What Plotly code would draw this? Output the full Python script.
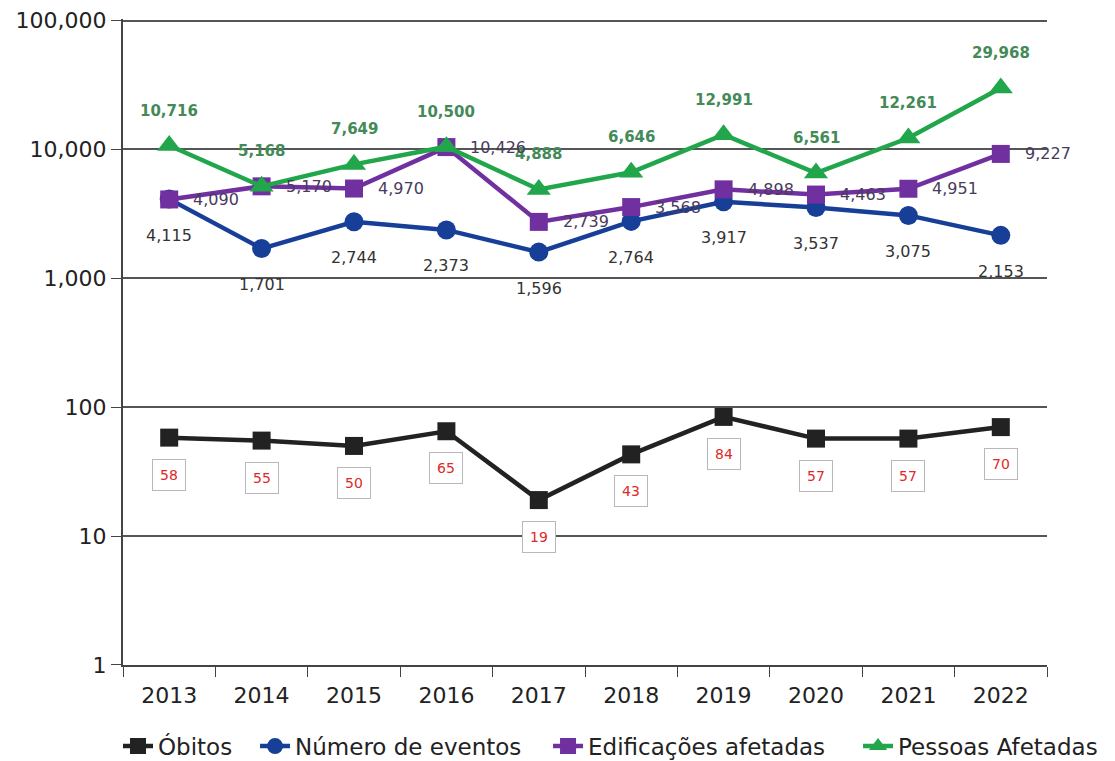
import numpy as np
import plotly.graph_objects as go

years = ["2013", "2014", "2015", "2016", "2017", "2018", "2019", "2020", "2021", "2022"]
obitos = [58, 55, 50, 65, 19, 43, 84, 57, 57, 70]
eventos = [4115, 1701, 2744, 2373, 1596, 2764, 3917, 3537, 3075, 2153]
edificacoes = [4090, 5170, 4970, 10426, 2739, 3568, 4898, 4463, 4951, 9227]
pessoas = [10716, 5168, 7649, 10500, 4888, 6646, 12991, 6561, 12261, 29968]

y_ticks = [1, 10, 100, 1000, 10000, 100000]
y_ticklabels = ["1", "10", "100", "1,000", "10,000", "100,000"]

C_BLACK = "#222222"
C_BLUE = "#173f98"
C_PURPLE = "#7030a0"
C_GREEN = "#21a64b"
FONT = "DejaVu Sans"

fig = go.Figure()

def add(name, vals, color, symbol, size, legend):
    fig.add_trace(go.Scatter(
        x=years, y=vals, name=name, mode="lines+markers",
        line=dict(color=color, width=4.5),
        marker=dict(symbol=symbol, size=size, color=color),
        legend=legend,
    ))

add("Óbitos", obitos, C_BLACK, "square", 18, "legend")
add("Número de eventos", eventos, C_BLUE, "circle", 19, "legend2")
add("Edificações afetadas", edificacoes, C_PURPLE, "square", 18, "legend3")
add("Pessoas Afetadas", pessoas, C_GREEN, "triangle-up", 21, "legend4")

ann = []
for i, v in enumerate(pessoas):
    ann.append(dict(x=i, y=float(np.log10(v)), text=f"<b>{v:,}</b>", showarrow=False, yshift=35,
                    font=dict(size=15, color="#438a58", family=FONT)))
for i, v in enumerate(eventos):
    ann.append(dict(x=i, y=float(np.log10(v)), text=f"{v:,}", showarrow=False, yshift=-36,
                    font=dict(size=16, color="#333333", family=FONT)))
for i, v in enumerate(edificacoes):
    ann.append(dict(x=i, y=float(np.log10(v)), text=f"{v:,}", showarrow=False, xshift=22,
                    xanchor="left", font=dict(size=16, color="#4a3a5c", family=FONT)))
for i, v in enumerate(obitos):
    ann.append(dict(x=i, y=float(np.log10(v)), text=f"{v}", showarrow=False, yshift=-37,
                    font=dict(size=14, color="#e02828", family=FONT),
                    bgcolor="white", bordercolor="#b8b8b8", borderwidth=1, borderpad=7))

leg_common = dict(orientation="h", y=-0.1256, yanchor="middle", xanchor="left",
                  font=dict(size=23, color="#222222", family=FONT), itemwidth=30,
                  bgcolor="rgba(0,0,0,0)")
fig.update_layout(
    width=1115, height=769,
    margin=dict(l=115, r=76, t=11, b=112, autoexpand=False),
    paper_bgcolor="white", plot_bgcolor="white",
    font=dict(family=FONT, color="#222222", size=22),
    showlegend=True,
    legend=dict(x=-0.0054, **leg_common),
    legend2=dict(x=0.1429, **leg_common),
    legend3=dict(x=0.46, **leg_common),
    legend4=dict(x=0.7955, **leg_common),
    annotations=ann,
    xaxis=dict(type="category", tickson="boundaries", ticks="outside", ticklen=10,
               ticklabelstandoff=10, automargin=False,
               tickcolor="#444444", showline=True, linecolor="#444444", linewidth=2,
               showgrid=False, tickfont=dict(size=22, color="#222222"),
               range=[-0.5, 9.5]),
    yaxis=dict(type="log", range=[-0.001, 5.012], tickvals=y_ticks, ticktext=y_ticklabels,
               ticks="outside", ticklen=10, tickcolor="#444444", ticklabeloverflow="allow",
               automargin=False,
               showline=True, linecolor="#444444", linewidth=2,
               showgrid=True, gridcolor="#555555", gridwidth=2,
               tickfont=dict(size=22, color="#222222"), zeroline=False),
)

fig.write_html("out.html")
